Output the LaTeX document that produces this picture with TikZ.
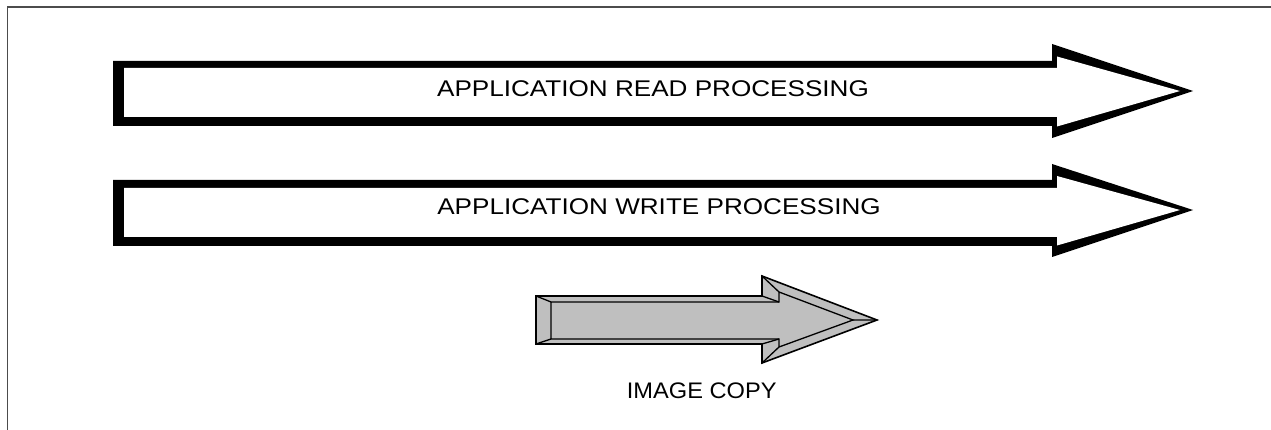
\documentclass[tikz,border=0pt]{standalone}
\usepackage{fontspec}
\setmainfont{Liberation Sans}
\newfontfamily\widefont[FakeStretch=1.15]{Liberation Sans}
\newfontfamily\copyfont[FakeStretch=1.05]{Liberation Sans}
\usetikzlibrary{positioning}

\tikzset{
  biglabel/.style={inner sep=0pt, font=\widefont\fontsize{22.7}{27}\selectfont},
  smalllabel/.style={inner sep=0pt, font=\copyfont\fontsize{22.5}{26}\selectfont},
  copyarrow/.style={fill=black!25, draw=black, line width=1.6pt, line join=miter},
  bevel/.style={draw=black, line width=1.3pt}
}

\begin{document}
\begin{tikzpicture}[x=1pt, y=-1pt]
  \useasboundingbox (0,0) rectangle (1271,430);

  % Frame
  \draw[black!70, line width=1.3pt] (7.5,430) -- (7.5,7) -- (1271,7);

  % Read arrow
  \fill[black] (113,61) -- (1052,61) -- (1052,44) -- (1193,91) -- (1052,138) -- (1052,126) -- (113,126) -- cycle;
  \fill[white] (124,68) -- (1057,68) -- (1057,56.5) -- (1180,91) -- (1057,126.5) -- (1057,117) -- (124,117) -- cycle;
  \node[biglabel] (read) at (653,89) {APPLICATION READ PROCESSING};

  % Write arrow
  \fill[black] (113,180) -- (1052,180) -- (1052,164) -- (1193,210) -- (1052,257) -- (1052,246) -- (113,246) -- cycle;
  \fill[white] (124,188) -- (1057,188) -- (1057,176) -- (1180,210) -- (1057,245.5) -- (1057,237) -- (124,237) -- cycle;
  \node[biglabel] (write) at (659,206.7) {APPLICATION WRITE PROCESSING};

  % Image copy arrow
  \draw[copyarrow] (536,296) -- (762,296) -- (762,276) -- (877,320) -- (762,363) -- (762,344) -- (536,344) -- cycle;
  \draw[bevel] (551,302) -- (779,302) -- (779,292) -- (853,320) -- (779,347) -- (779,339) -- (551,339) -- cycle;
  \draw[bevel] (536,296) -- (551,302)  (762,296) -- (779,302)  (762,276) -- (779,292)  (877,320) -- (853,320)
               (762,363) -- (779,347)  (762,344) -- (779,339)  (536,344) -- (551,339);
  \node[smalllabel] (copy) at (701.7,390.5) {IMAGE COPY};
\end{tikzpicture}
\end{document}
